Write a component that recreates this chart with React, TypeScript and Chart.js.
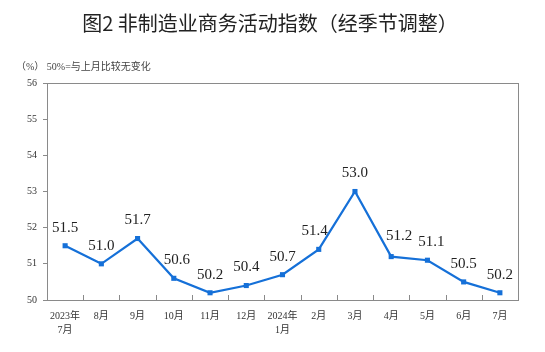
import React, { useEffect, useRef } from "react";
import { Chart, registerables } from "chart.js";

Chart.register(...registerables);

const categories: (string | string[])[] = [
  ["2023年", "7月"], "8月", "9月", "10月", "11月", "12月",
  ["2024年", "1月"], "2月", "3月", "4月", "5月", "6月", "7月",
];
const values = [51.5, 51.0, 51.7, 50.6, 50.2, 50.4, 50.7, 51.4, 53.0, 51.2, 51.1, 50.5, 50.2];
const labelShiftX = [0, 0, 0, 3, 0, 0, 0, -4, 0, 8, 4, 0, 0];
const labelShiftY = [0, 0, 0, 0, 0, 0, 0, 0, 0, -3, 0, 0, 0];
const titleText = "图2 非制造业商务活动指数（经季节调整）";
const noteText = "（%） 50%=与上月比较无变化";

const BLUE = "#1570d8";
const FRAME = "#8a8a8a";
const SERIF = "'Liberation Serif', 'DejaVu Serif', 'Noto Sans CJK SC', serif";

const decor = {
  id: "decor",
  afterDraw(chart: any) {
    const { ctx, chartArea } = chart;
    const xs = chart.scales.x;
    ctx.save();
    // frame
    ctx.strokeStyle = FRAME;
    ctx.lineWidth = 1;
    ctx.strokeRect(
      Math.round(chartArea.left) + 0.5,
      Math.round(chartArea.top) + 0.5,
      Math.round(chartArea.right - chartArea.left),
      Math.round(chartArea.bottom - chartArea.top)
    );
    // inward x ticks at category boundaries
    ctx.beginPath();
    for (let i = 1; i < categories.length; i++) {
      const x = Math.round((xs.getPixelForValue(i - 1) + xs.getPixelForValue(i)) / 2) + 0.5;
      ctx.moveTo(x, chartArea.bottom);
      ctx.lineTo(x, chartArea.bottom - 5);
    }
    ctx.stroke();
    // title
    ctx.fillStyle = "#222";
    ctx.textAlign = "center";
    ctx.textBaseline = "middle";
    ctx.font = "20px 'Noto Sans CJK SC', sans-serif";
    ctx.fillText(titleText, 270, 23);
    ctx.fillStyle = "#444";
    ctx.textAlign = "left";
    ctx.font = "10px 'Liberation Serif', 'Noto Sans CJK SC', serif";
    ctx.fillText(noteText, 16, 67);
    ctx.restore();
  },
  afterDatasetsDraw(chart: any) {
    const { ctx } = chart;
    const meta = chart.getDatasetMeta(0);
    ctx.save();
    ctx.fillStyle = "#222";
    ctx.textAlign = "center";
    ctx.textBaseline = "middle";
    ctx.font = "15px " + SERIF;
    meta.data.forEach((pt: any, i: number) => {
      ctx.fillText(values[i].toFixed(1), pt.x + labelShiftX[i], pt.y - 18 + labelShiftY[i]);
    });
    ctx.restore();
  },
};

export default function App() {
  const ref = useRef<HTMLCanvasElement>(null);
  useEffect(() => {
    if (!ref.current) return;
    const chart = new Chart(ref.current, {
      type: "line",
      data: {
        labels: categories,
        datasets: [
          {
            data: values,
            borderColor: BLUE,
            backgroundColor: BLUE,
            borderWidth: 2.2,
            pointStyle: "rect",
            pointRadius: 3.6,
            pointBorderWidth: 0,
            tension: 0,
          },
        ],
      },
      options: {
        responsive: false,
        animation: false,
        devicePixelRatio: 1,
        layout: { padding: { left: 0, top: 83, right: 27, bottom: 0 } },
        plugins: { legend: { display: false }, tooltip: { enabled: false }, title: { display: false } },
        scales: {
          x: {
            offset: true,
            grid: { display: false, drawTicks: false },
            border: { display: false },
            ticks: {
              color: "#333",
              font: { family: SERIF, size: 10, lineHeight: 1.4 },
              padding: 9,
              maxRotation: 0,
              autoSkip: false,
            },
            afterFit: (s: any) => {
              s.height = 52;
            },
          },
          y: {
            min: 50,
            max: 56,
            grid: { drawOnChartArea: false, tickLength: 4, color: FRAME },
            border: { display: true, color: FRAME },
            ticks: {
              stepSize: 1,
              color: "#333",
              font: { family: SERIF, size: 10 },
              padding: 6,
            },
            afterFit: (s: any) => {
              s.width = 47;
            },
          },
        },
      },
      plugins: [decor],
    });
    return () => chart.destroy();
  }, []);
  return (
    <div style={{ position: "absolute", left: 0, top: 0, width: 545, height: 352, background: "#fff" }}>
      <canvas ref={ref} width={545} height={352} style={{ width: 545, height: 352 }} />
    </div>
  );
}
